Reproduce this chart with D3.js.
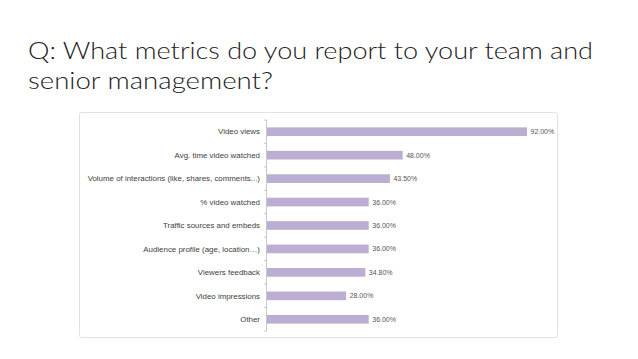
<!DOCTYPE html>
<html><head><meta charset="utf-8">
<script src="https://cdn.jsdelivr.net/npm/d3@7"></script>
<style>body{margin:0;background:#fff}svg{display:block}</style>
</head><body>
<script>
const titleLines = ["Q: What metrics do you report to your team and", "senior management?"];
const titleWidths = [565, 245];
const categories = ["Video views","Avg. time video watched","Volume of interactions (like, shares, comments...)","% video watched","Traffic sources and embeds","Audience profile (age, location…)","Viewers feedback","Video impressions","Other"];
const values = [92.00, 48.00, 43.50, 36.00, 36.00, 36.00, 34.80, 28.00, 36.00];

const W = 638, H = 359;
const svg = d3.select("body").append("svg").attr("width", W).attr("height", H);

// title
const tl = svg.append("g");
titleLines.forEach((t, i) => {
  tl.append("text").attr("x", 28).attr("y", 59 + i * 30)
    .attr("font-family", "Lato, 'Open Sans', sans-serif").attr("font-size", 24)
    .attr("font-weight", 300)
    .attr("fill", "#222").text(t)
    .attr("textLength", titleWidths[i]).attr("lengthAdjust", "spacingAndGlyphs");
});

// chart box
svg.append("rect").attr("x", 79.5).attr("y", 112.5).attr("width", 478).attr("height", 225)
  .attr("rx", 2).attr("fill", "#fff").attr("stroke", "#e2e2e2");

const x = d3.scaleLinear().domain([0, 100]).range([267, 549.6]);
const y = d3.scaleBand().domain(categories).range([120, 331]).paddingInner(0.63).paddingOuter(0.315);

// bars
svg.append("g").selectAll("rect").data(values).join("rect")
  .attr("x", x(0)).attr("y", (d, i) => y(categories[i]))
  .attr("width", d => x(d) - x(0)).attr("height", y.bandwidth())
  .attr("fill", "#bcaed2");

// axis with ticks at band boundaries
const ax = svg.append("g").attr("transform", `translate(${x(0)},0)`);
const step = y.step();
const bounds = d3.range(categories.length + 1).map(i => 120 + i * step);
ax.append("line").attr("x1", -0.5).attr("x2", -0.5).attr("y1", 120).attr("y2", 331).attr("stroke", "#c8c8c8");
ax.selectAll("line.t").data(bounds).join("line").attr("class", "t")
  .attr("x1", -3).attr("x2", -0.5).attr("y1", d => d).attr("y2", d => d).attr("stroke", "#c8c8c8");

// category labels
svg.append("g").selectAll("text").data(categories).join("text")
  .attr("x", x(0) - 7).attr("y", d => y(d) + y.bandwidth() / 2).attr("dy", "0.35em")
  .attr("text-anchor", "end").attr("font-family", "Liberation Sans, Arial, sans-serif")
  .attr("font-size", 7.9).attr("fill", "#404040").text(d => d);

// value labels
svg.append("g").selectAll("text").data(values).join("text")
  .attr("x", d => x(d) + 3.5).attr("y", (d, i) => y(categories[i]) + y.bandwidth() / 2).attr("dy", "0.35em")
  .attr("font-family", "Liberation Sans, Arial, sans-serif")
  .attr("font-size", 7).attr("fill", "#555").text(d => d3.format(".2f")(d) + "%");
</script>
</body></html>
